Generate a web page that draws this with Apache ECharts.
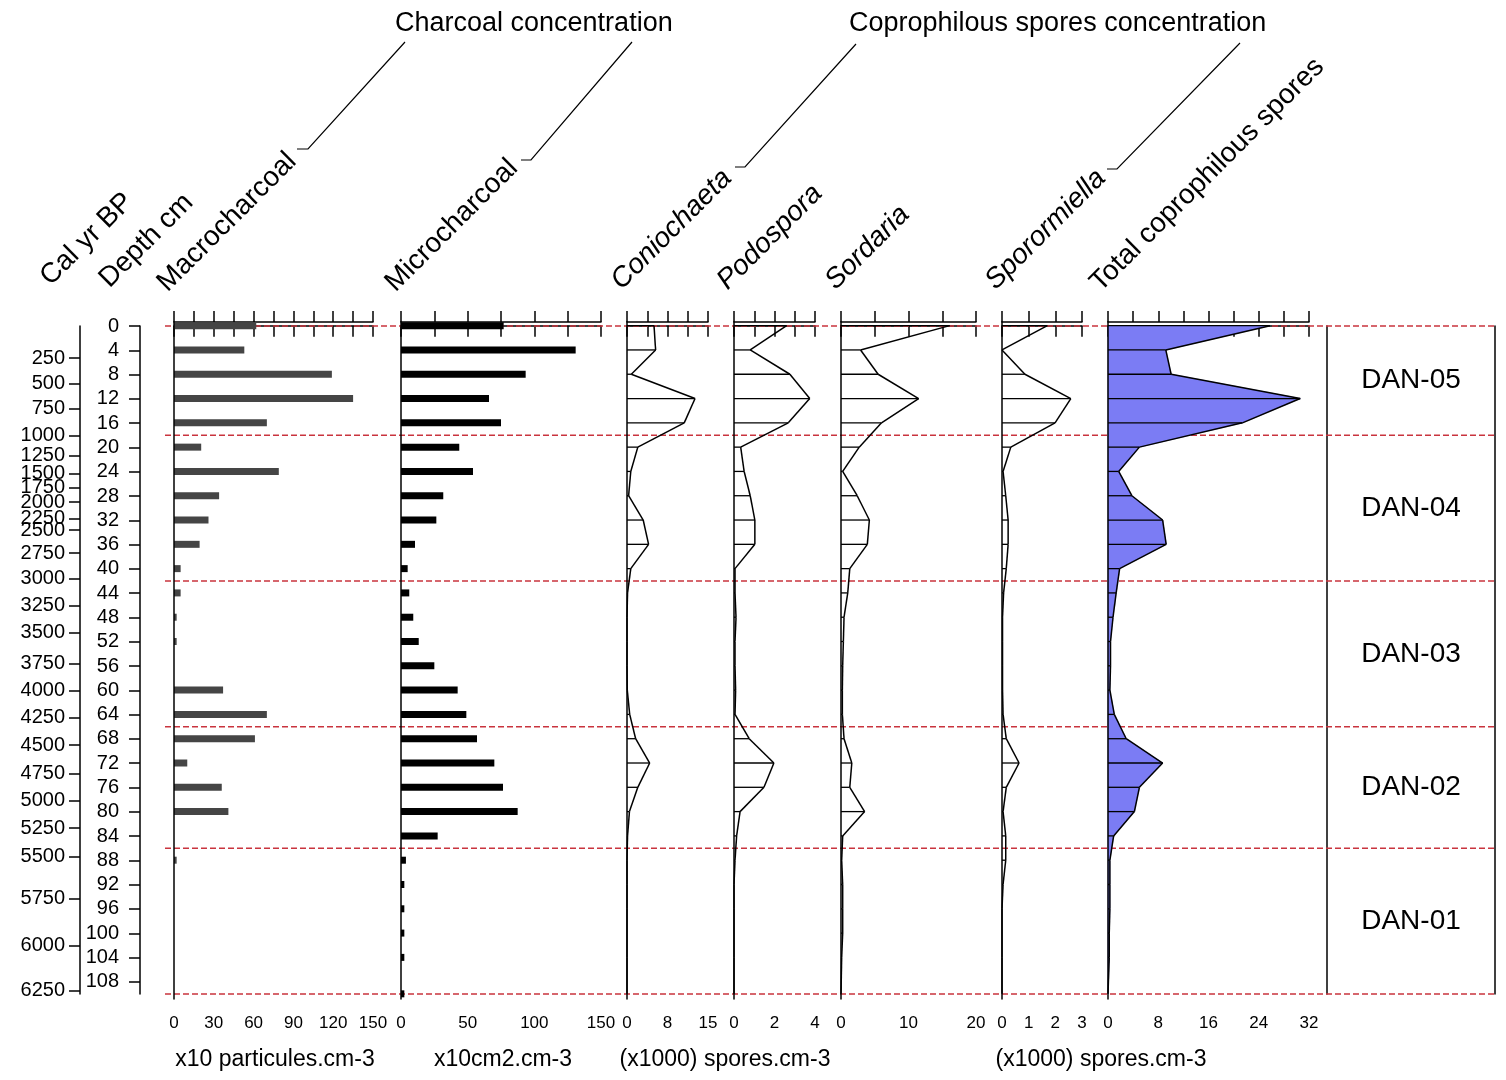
<!DOCTYPE html>
<html>
<head>
<meta charset="utf-8">
<script src="https://cdn.jsdelivr.net/npm/echarts@6/dist/echarts.min.js"></script>
<style>
  html, body { margin: 0; padding: 0; background: #fff; }
  #chart { width: 1506px; height: 1080px; }
</style>
</head>
<body>
<div id="chart"></div>
<script>
// Sample depths (cm)
const depths = [0, 4, 8, 12, 16, 20, 24, 28, 32, 36, 40, 44, 48, 52, 56, 60, 64, 68, 72, 76, 80, 84, 88, 92, 96, 100, 104, 110];

// Charcoal concentrations
const macrocharcoal = [62, 53, 119, 135, 70, 20.5, 79, 34, 26, 19.3, 5, 5, 2, 2, 0, 37, 70, 61, 10, 36, 41, 0, 2, 0, 0, 0, 0, 0];
const microcharcoal = [77, 131, 93.5, 66, 75, 43.7, 54, 31.7, 26.5, 10.5, 5, 6.2, 9.2, 13.3, 25, 42.5, 49, 57, 70, 76.5, 87.5, 27.5, 3.7, 2.5, 2.5, 2.5, 2.5, 2.5];

// Coprophilous spores (x1000 spores/cm3)
const coniochaeta = [5.0, 5.3, 0.8, 12.6, 10.6, 2.0, 0.7, 0.3, 3.0, 4.0, 0.7, 0.1, 0, 0, 0, 0.05, 0.5, 1.6, 4.2, 2.0, 0.45, 0.1, 0, 0, 0, 0, 0, 0];
const podospora = [2.6, 0.8, 2.76, 3.74, 2.68, 0.33, 0.5, 0.8, 1.03, 1.03, 0.05, 0.05, 0.1, 0.05, 0.05, 0.08, 0.05, 0.75, 1.97, 1.48, 0.3, 0.13, 0.05, 0, 0, 0, 0, 0];
const sordaria = [16.1, 2.9, 5.5, 11.5, 6.0, 2.7, 0.25, 2.4, 4.2, 3.9, 1.3, 1.0, 0.45, 0.35, 0.25, 0.2, 0.2, 0.45, 1.6, 1.3, 3.5, 0.25, 0.1, 0.25, 0.25, 0.25, 0.1, 0];
const sporormiella = [1.7, 0, 0.86, 2.58, 1.99, 0.33, 0.04, 0.14, 0.23, 0.23, 0.16, 0.06, 0.02, 0.02, 0.02, 0.02, 0.04, 0.16, 0.64, 0.16, 0.04, 0.14, 0.14, 0.04, 0, 0, 0, 0];
const totalCoprophilous = [25.8, 9.2, 10.05, 30.6, 21.4, 5.0, 1.7, 3.8, 8.7, 9.26, 1.85, 1.3, 0.8, 0.4, 0.4, 0.3, 1.0, 2.9, 8.7, 5.0, 4.2, 0.9, 0.3, 0.3, 0.3, 0.2, 0.2, 0];

// Local pollen/spore zones
const zoneBounds = [0, 18, 42, 66, 86, 110];
const zoneNames = ['DAN-05', 'DAN-04', 'DAN-03', 'DAN-02', 'DAN-01'];

// Age-depth model: calibrated ages and their depths
const calAges = [250, 500, 750, 1000, 1250, 1500, 1750, 2000, 2250, 2500, 2750, 3000, 3250, 3500, 3750, 4000, 4250, 4500, 4750, 5000, 5250, 5500, 5750, 6000, 6250];
const calAgeDepths = [5.3, 9.5, 13.6, 18.0, 21.4, 24.3, 26.6, 29.0, 31.7, 33.6, 37.4, 41.6, 46.0, 50.5, 55.6, 60.0, 64.5, 69.0, 73.7, 78.2, 82.7, 87.4, 94.3, 102.0, 109.5];

// Depth scale ticks
const depthTicks = [0, 4, 8, 12, 16, 20, 24, 28, 32, 36, 40, 44, 48, 52, 56, 60, 64, 68, 72, 76, 80, 84, 88, 92, 96, 100, 104, 108];

// Horizontal scale ticks and labels of each curve
const macroTicks = [0, 15, 30, 45, 60, 75, 90, 105, 120, 135, 150];
const macroLabels = [0, 30, 60, 90, 120, 150];
const microTicks = [0, 25, 50, 75, 100, 125, 150];
const microLabels = [0, 50, 100, 150];
const coniTicks = [0, 3.75, 7.5, 11.25, 15];
const coniLabels = [0, 7.5, 15];
const podoTicks = [0, 1, 2, 3, 4];
const podoLabels = [0, 2, 4];
const sordTicks = [0, 5, 10, 15, 20];
const sordLabels = [0, 10, 20];
const sporTicks = [0, 1, 2, 3];
const sporLabels = [0, 1, 2, 3];
const totalTicks = [0, 4, 8, 12, 16, 20, 24, 28, 32];
const totalLabels = [0, 8, 16, 24, 32];

const FONT = '"Liberation Sans", Arial, Helvetica, sans-serif';
const INK = '#000';

// ---- layout ----
const PLOT_TOP = 322, PLOT_H = 677;         // frame of each curve panel
const CORE_TOP = 326, CORE_H = 668;         // depth 0..110 cm
const DEPTH_MIN = -0.6, DEPTH_MAX = 110.85;  // panel frame extent in depth units

const panels = [
  { name: 'macro', left: 174, width: 199, max: 150, ticks: macroTicks, labels: macroLabels, values: macrocharcoal, kind: 'bar', color: '#454545' },
  { name: 'micro', left: 401, width: 200, max: 150, ticks: microTicks, labels: microLabels, values: microcharcoal, kind: 'bar', color: '#000' },
  { name: 'conio', left: 627, width: 81, max: 15, ticks: coniTicks, labels: coniLabels, values: coniochaeta, kind: 'profile' },
  { name: 'podo', left: 734, width: 81, max: 4, ticks: podoTicks, labels: podoLabels, values: podospora, kind: 'profile' },
  { name: 'sord', left: 841, width: 135, max: 20, ticks: sordTicks, labels: sordLabels, values: sordaria, kind: 'profile' },
  { name: 'spor', left: 1002, width: 80, max: 3, ticks: sporTicks, labels: sporLabels, values: sporormiella, kind: 'profile' },
  { name: 'total', left: 1108, width: 201, max: 32, ticks: totalTicks, labels: totalLabels, values: totalCoprophilous, kind: 'profile', fill: '#7b7cf4' }
];

const grid = [], xAxis = [], yAxis = [], series = [];

const hiddenX = (gi, min, max) => ({ gridIndex: gi, type: 'value', min, max, show: false });

// 0: calibrated age scale
grid.push({ left: 80, width: 1, top: CORE_TOP, height: CORE_H });
xAxis.push(hiddenX(0, 0, 1));
yAxis.push({
  gridIndex: 0, type: 'value', inverse: true, min: 0, max: 110, position: 'left',
  axisLine: { show: true, lineStyle: { color: INK, width: 1.5 } },
  axisTick: { show: true, length: 11, lineStyle: { color: INK, width: 1.5 }, customValues: calAgeDepths },
  axisLabel: {
    show: true, margin: 15, fontSize: 20, color: INK, fontFamily: FONT,
    customValues: calAgeDepths,
    formatter: (v) => {
      let best = 0;
      calAgeDepths.forEach((d, i) => { if (Math.abs(d - v) < Math.abs(calAgeDepths[best] - v)) best = i; });
      return String(calAges[best]);
    }
  },
  splitLine: { show: false }
});

// 1: depth scale
grid.push({ left: 140, width: 1, top: CORE_TOP, height: CORE_H });
xAxis.push(hiddenX(1, 0, 1));
yAxis.push({
  gridIndex: 1, type: 'value', inverse: true, min: 0, max: 110, position: 'left',
  axisLine: { show: true, lineStyle: { color: INK, width: 1.5 } },
  axisTick: { show: true, length: 11, lineStyle: { color: INK, width: 1.5 }, customValues: depthTicks },
  axisLabel: { show: true, margin: 21, fontSize: 20, color: INK, fontFamily: FONT, customValues: depthTicks },
  splitLine: { show: false }
});

// 2: zone boundary lines across the diagram
grid.push({ left: 165, width: 1330, top: CORE_TOP, height: CORE_H });
xAxis.push(hiddenX(2, 0, 1));
yAxis.push({ gridIndex: 2, type: 'value', inverse: true, min: 0, max: 110, show: false });
series.push({
  type: 'custom', xAxisIndex: 2, yAxisIndex: 2, z: 1, silent: true,
  data: zoneBounds.map(d => [0, d]),
  encode: { x: 0, y: 1 },
  renderItem: (params, api) => {
    const d = api.value(1);
    const a = api.coord([0, d]), b = api.coord([1, d]);
    return { type: 'line', shape: { x1: a[0], y1: a[1], x2: b[0], y2: b[1] },
      style: { stroke: '#c9343e', lineWidth: 1.6, lineDash: [6, 3] } };
  }
});

// 3: zone column
grid.push({ left: 1327, width: 168, top: CORE_TOP, height: CORE_H });
xAxis.push(hiddenX(3, 0, 1));
const zoneAxis = (pos) => ({
  gridIndex: 3, type: 'value', inverse: true, min: 0, max: 110, position: pos,
  axisLine: { show: true, lineStyle: { color: INK, width: 1.5 } },
  axisTick: { show: false }, axisLabel: { show: false }, splitLine: { show: false }
});
yAxis.push(zoneAxis('left'));
yAxis.push(zoneAxis('right'));
series.push({
  type: 'custom', xAxisIndex: 3, yAxisIndex: 3, z: 3, silent: true,
  data: zoneNames.map((n, i) => [0.5, (zoneBounds[i] + zoneBounds[i + 1]) / 2]),
  encode: { x: 0, y: 1 },
  renderItem: (params, api) => {
    const p = api.coord([api.value(0), api.value(1)]);
    return { type: 'text', x: p[0], y: p[1],
      style: { text: zoneNames[params.dataIndex], fill: INK, fontSize: 28, fontFamily: FONT,
        align: 'center', verticalAlign: 'middle' } };
  }
});

// curve panels
panels.forEach((p, i) => {
  const gi = grid.length;
  grid.push({ left: p.left, width: p.width, top: PLOT_TOP, height: PLOT_H });
  const xb = xAxis.length;
  const axisCommon = {
    gridIndex: gi, type: 'value', min: 0, max: p.max,
    axisLine: { show: true, lineStyle: { color: INK, width: 1.5 } },
    axisTick: { show: true, length: 11, lineStyle: { color: INK, width: 1.5 }, customValues: p.ticks },
    splitLine: { show: false }
  };
  xAxis.push(Object.assign({}, axisCommon, {
    position: 'bottom',
    axisLabel: { show: true, margin: 16, fontSize: 17, color: INK, fontFamily: FONT,
      customValues: p.labels, formatter: (v) => String(Math.round(v)) }
  }));
  xAxis.push(Object.assign({}, axisCommon, { position: 'top', axisLabel: { show: false } }));
  const yi = yAxis.length;
  yAxis.push({
    gridIndex: gi, type: 'value', inverse: true, min: DEPTH_MIN, max: DEPTH_MAX, position: 'left', z: 6,
    axisLine: { show: true, onZero: false, lineStyle: { color: INK, width: 1.5 } },
    axisTick: { show: false }, axisLabel: { show: false }, splitLine: { show: false }
  });

  if (p.kind === 'bar') {
    series.push({
      type: 'custom', xAxisIndex: xb, yAxisIndex: yi, z: 3, silent: true,
      data: p.values.map((v, k) => [v, depths[k]]),
      encode: { x: 0, y: 1 },
      renderItem: (params, api) => {
        const v = api.value(0), d = api.value(1);
        const a = api.coord([0, d]), b = api.coord([v, d]);
        const h = 7;
        return { type: 'rect', shape: { x: a[0], y: a[1] - h / 2, width: b[0] - a[0], height: h },
          style: { fill: p.color } };
      }
    });
  } else {
    const n = p.values.length;
    const segData = p.values.map((v, k) => {
      const k2 = Math.min(k + 1, n - 1);
      return [v, depths[k], p.values[k2], depths[k2]];
    });
    if (p.fill) {
      series.push({
        type: 'custom', xAxisIndex: xb, yAxisIndex: yi, z: 2, silent: true,
        data: segData, encode: { x: 0, y: 1 },
        renderItem: (params, api) => {
          if (params.dataIndex >= n - 1) return null;
          const v = api.value(0), d = api.value(1), vn = api.value(2), dn = api.value(3);
          return { type: 'polygon',
            shape: { points: [api.coord([0, d]), api.coord([v, d]), api.coord([vn, dn]), api.coord([0, dn])] },
            style: { fill: p.fill, stroke: p.fill, lineWidth: 0.6 } };
        }
      });
    }
    series.push({
      type: 'custom', xAxisIndex: xb, yAxisIndex: yi, z: 4, silent: true,
      data: segData, encode: { x: 0, y: 1 },
      renderItem: (params, api) => {
        const v = api.value(0), d = api.value(1), vn = api.value(2), dn = api.value(3);
        const base = api.coord([0, d]), pt = api.coord([v, d]);
        const children = [{ type: 'line', shape: { x1: base[0], y1: base[1], x2: pt[0], y2: pt[1] },
          style: { stroke: INK, lineWidth: 1.3 } }];
        if (params.dataIndex < n - 1) {
          const nx = api.coord([vn, dn]);
          children.push({ type: 'line', shape: { x1: pt[0], y1: pt[1], x2: nx[0], y2: nx[1] },
            style: { stroke: INK, lineWidth: 1.5 } });
        }
        return { type: 'group', children };
      }
    });
  }
});

// headers, leader lines and unit captions
const headStyle = (text, italic) => ({
  text, fill: INK, font: (italic ? 'italic ' : '') + '28px ' + FONT,
  align: 'left', verticalAlign: 'bottom', textAlign: 'left', textVerticalAlign: 'bottom'
});
const heads = [
  ['Cal yr BP', 55, 291, false],
  ['Depth cm', 114, 293, false],
  ['Macrocharcoal', 172, 297, false],
  ['Microcharcoal', 400, 297, false],
  ['Coniochaeta', 626, 295, true],
  ['Podospora', 732, 295, true],
  ['Sordaria', 840, 295, true],
  ['Sporormiella', 1000, 295, true],
  ['Total coprophilous spores', 1105, 297, false]
];
const graphic = heads.map(h => ({
  type: 'text', x: h[1], y: h[2], rotation: Math.PI / 4, silent: true,
  style: headStyle(h[0], h[3])
}));

const captions = [
  ['Charcoal concentration', 395, 24, 'left', 27],
  ['Coprophilous spores concentration', 849, 24, 'left', 27],
  ['x10 particules.cm-3', 275, 1060, 'center', 23],
  ['x10cm2.cm-3', 503, 1060, 'center', 23],
  ['(x1000) spores.cm-3', 725, 1060, 'center', 23],
  ['(x1000) spores.cm-3', 1101, 1060, 'center', 23]
];
captions.forEach(c => graphic.push({
  type: 'text', x: c[1], y: c[2], silent: true,
  style: { text: c[0], fill: INK, font: c[4] + 'px ' + FONT, align: c[3], verticalAlign: 'middle',
    textAlign: c[3], textVerticalAlign: 'middle' }
}));

const leaders = [
  [[297, 149], [308, 149], [405, 42]],
  [[521, 160], [531, 160], [632, 42]],
  [[735, 167], [745, 167], [856, 44]],
  [[1107, 169], [1117, 169], [1240, 43]]
];
leaders.forEach(pts => graphic.push({
  type: 'polyline', silent: true, shape: { points: pts },
  style: { stroke: INK, lineWidth: 1.2, fill: null }
}));

const chart = echarts.init(document.getElementById('chart'), null, { renderer: 'canvas' });
chart.setOption({
  animation: false,
  backgroundColor: '#fff',
  textStyle: { fontFamily: FONT },
  grid, xAxis, yAxis, series, graphic
});
</script>
</body>
</html>
